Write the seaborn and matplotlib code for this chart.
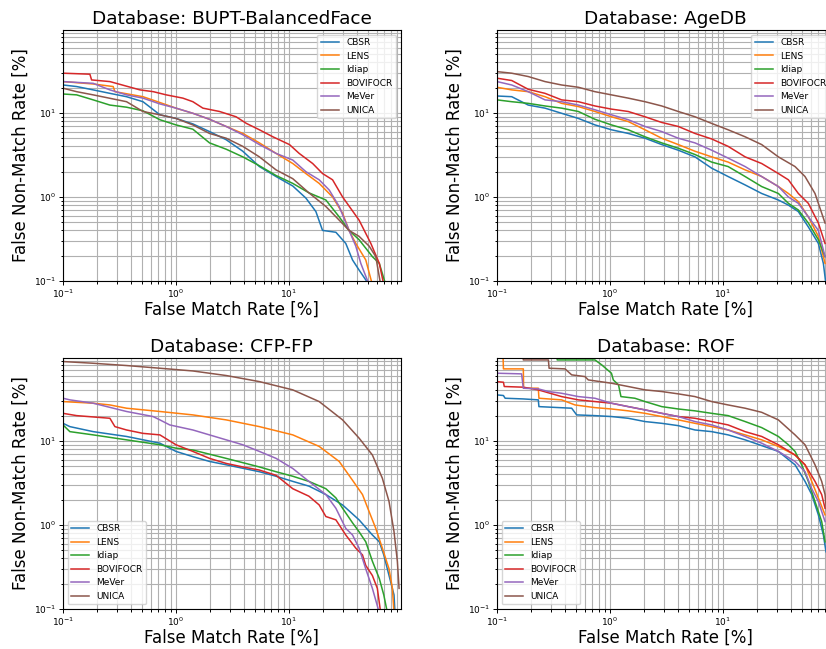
import numpy as np
import pandas as pd
import matplotlib
matplotlib.use("Agg")
import matplotlib.pyplot as plt
import seaborn as sns

methods = ["CBSR", "LENS", "Idiap", "BOVIFOCR", "MeVer", "UNICA"]
palette = dict(zip(methods, sns.color_palette("tab10", 6)))

# -----------------------------
# BUPT-BalancedFace (FMR %, FNMR %)
# -----------------------------
bupt_cbsr_fmr = [0.1, 0.132, 0.185, 0.26, 0.365, 0.51, 0.59, 0.72, 1.0, 1.41, 1.98, 2.78, 3.9, 5.47, 7.68, 10.8, 14.1, 17.3, 19.8, 26, 31.8, 36.5, 41.7, 51.2]
bupt_cbsr_fnmr = [21.5, 20.6, 18.8, 17.1, 15.6, 13.6, 11.7, 9.5, 8.6, 7.4, 6.0, 4.8, 3.5, 2.3, 1.75, 1.35, 0.97, 0.67, 0.40, 0.38, 0.28, 0.178, 0.135, 0.09]
bupt_lens_fmr = [0.1, 0.185, 0.278, 0.288, 0.51, 0.72, 1.0, 1.41, 1.98, 2.78, 3.9, 5.47, 7.68, 10.8, 14.1, 18.5, 24.3, 29.8, 34, 39, 47.8, 54.7]
bupt_lens_fnmr = [23.6, 22.1, 20.6, 17.9, 15.6, 13.3, 11.4, 9.9, 8.4, 6.9, 5.7, 4.4, 3.3, 2.5, 1.9, 1.45, 1.0, 0.64, 0.40, 0.28, 0.178, 0.09]
bupt_idiap_fmr = [0.1, 0.132, 0.185, 0.26, 0.365, 0.51, 0.72, 1.0, 1.41, 1.98, 2.78, 3.9, 5.47, 7.68, 10.8, 15.0, 21.2, 27.8, 34, 41.7, 54.7, 63, 71.8]
bupt_idiap_fnmr = [16.8, 16.4, 14.3, 12.4, 11.7, 10.6, 8.3, 7.2, 6.4, 4.4, 3.7, 3.0, 2.35, 1.8, 1.45, 1.12, 0.92, 0.58, 0.40, 0.31, 0.195, 0.162, 0.09]
bupt_bovifocr_fmr = [0.1, 0.173, 0.179, 0.26, 0.48, 0.63, 0.82, 1.15, 1.41, 1.73, 2.43, 3.4, 4.2, 5.47, 7.2, 10.1, 12.3, 16.2, 19.8, 24.3, 29.8, 41.7, 53, 63, 69]
bupt_bovifocr_fnmr = [29.7, 28.9, 24.7, 23.6, 18.8, 17.9, 16.4, 15.0, 13.6, 11.4, 10.4, 9.0, 7.5, 6.3, 5.2, 4.2, 3.3, 2.5, 1.9, 1.6, 1.0, 0.53, 0.28, 0.162, 0.09]
bupt_mever_fmr = [0.1, 0.185, 0.26, 0.365, 0.51, 0.72, 1.0, 1.41, 1.98, 2.78, 3.9, 5.47, 7.68, 10.8, 14.1, 18.5, 22.7, 27.8, 34, 39, 43.2, 51.2]
bupt_mever_fnmr = [23.6, 22.5, 18.8, 16.4, 15.0, 12.8, 11.4, 9.9, 8.4, 6.9, 5.5, 4.2, 3.3, 2.75, 2.0, 1.6, 1.21, 0.77, 0.40, 0.26, 0.162, 0.09]
bupt_unica_fmr = [0.1, 0.132, 0.185, 0.365, 0.51, 0.72, 1.0, 1.41, 1.98, 2.78, 3.9, 5.47, 7.68, 10.8, 15.0, 21.2, 27.8, 34, 41.7, 51.2, 58.6, 64.8]
bupt_unica_fnmr = [19.7, 17.9, 16.4, 13.6, 10.4, 9.5, 8.6, 7.2, 5.7, 5.0, 4.0, 3.0, 2.1, 1.65, 1.12, 0.77, 0.53, 0.40, 0.34, 0.26, 0.195, 0.09]

# -----------------------------
# AgeDB
# -----------------------------
agedb_fmr = [0.1, 0.135, 0.189, 0.266, 0.373, 0.525, 0.736, 1.03, 1.45, 2.04, 2.87, 4.02, 5.65, 7.94, 11.1, 15.7, 22.0, 30.9, 37.9, 46.4, 56.9, 69.8, 80]
agedb_cbsr_fmr = [0.1, 0.135, 0.189, 0.266, 0.373, 0.525, 0.736, 1.03, 1.45, 2.04, 2.87, 4.02, 5.65, 7.94, 11.1, 15.7, 22.0, 30.9, 37.9, 46.4, 56.9, 69.8, 77.3, 81.6]
agedb_cbsr_fnmr = [15.9, 15.6, 12.4, 11.4, 9.9, 8.6, 7.2, 6.3, 5.7, 5.0, 4.2, 3.6, 3.0, 2.2, 1.75, 1.39, 1.1, 0.92, 0.80, 0.67, 0.44, 0.28, 0.162, 0.09]
agedb_lens_fnmr = [20.2, 18.8, 17.9, 15.6, 13.0, 11.9, 10.4, 9.0, 7.9, 6.3, 5.0, 4.2, 3.5, 3.0, 2.6, 2.1, 1.75, 1.33, 1.1, 0.88, 0.58, 0.34, 0.162]
agedb_idiap_fnmr = [14.3, 13.6, 13.0, 12.1, 11.4, 10.4, 8.4, 7.2, 6.3, 5.2, 4.4, 3.8, 3.2, 2.6, 2.3, 1.75, 1.33, 1.1, 0.84, 0.70, 0.49, 0.31, 0.195]
agedb_bovifocr_fnmr = [25.9, 24.3, 19.1, 17.1, 14.3, 13.6, 12.1, 11.1, 10.4, 9.0, 7.7, 6.9, 5.7, 4.9, 4.0, 3.0, 2.5, 1.9, 1.6, 1.1, 0.84, 0.49, 0.28]
agedb_mever_fnmr = [23.6, 21.5, 17.9, 14.3, 13.6, 12.4, 10.9, 9.5, 8.3, 6.9, 6.0, 5.0, 4.4, 3.6, 2.9, 2.3, 1.75, 1.33, 1.0, 0.84, 0.58, 0.40, 0.195]
agedb_unica_fmr = [0.1, 0.135, 0.189, 0.266, 0.373, 0.525, 0.736, 1.03, 1.45, 2.04, 2.87, 4.02, 5.65, 7.94, 11.1, 15.7, 22.0, 30.9, 43.4, 53.2, 65.2, 80]
agedb_unica_fnmr = [31.0, 29.7, 27.1, 23.6, 21.5, 20.2, 17.9, 16.4, 15.0, 13.6, 12.1, 10.4, 9.0, 7.5, 6.3, 5.2, 4.2, 3.0, 2.3, 1.75, 1.1, 0.49]

# -----------------------------
# CFP-FP
# -----------------------------
cfp_cbsr_fmr = [0.1, 0.115, 0.185, 0.365, 0.72, 1.0, 1.41, 1.98, 2.78, 5.47, 7.68, 10.8, 15.0, 21.2, 29.8, 41.7, 54.7, 63, 69, 76.8, 85, 86.7]
cfp_cbsr_fnmr = [16.2, 14.8, 12.9, 11.3, 9.4, 7.5, 6.5, 5.7, 5.2, 4.3, 3.8, 3.3, 2.9, 2.3, 1.73, 1.15, 0.76, 0.63, 0.44, 0.25, 0.147, 0.09]
cfp_lens_fmr = [0.1, 0.185, 0.26, 0.365, 0.72, 1.41, 2.78, 5.47, 10.8, 18.5, 27.8, 36.5, 44.7, 51.2, 58.6, 67, 76.8, 82.2, 85]
cfp_lens_fnmr = [29.4, 28.1, 26.8, 24.5, 22.4, 20.4, 17.8, 14.8, 11.8, 8.6, 5.7, 3.4, 2.3, 1.44, 0.91, 0.53, 0.30, 0.176, 0.09]
cfp_idiap_fmr = [0.1, 0.115, 0.185, 0.365, 0.72, 1.0, 1.41, 2.78, 5.47, 7.68, 10.8, 15.0, 21.2, 26, 29.8, 36.5, 41.7, 47.8, 54.7, 63, 69, 74.3]
cfp_idiap_fnmr = [15.5, 12.9, 11.8, 10.3, 9.0, 8.2, 7.8, 6.2, 4.9, 4.3, 3.8, 3.3, 2.7, 2.1, 1.58, 1.06, 0.83, 0.63, 0.37, 0.23, 0.147, 0.09]
cfp_bovifocr_fmr = [0.1, 0.132, 0.26, 0.288, 0.365, 0.51, 0.72, 1.0, 1.41, 1.98, 2.78, 3.9, 5.47, 7.68, 10.8, 15.0, 18.5, 21.2, 26, 31.8, 39, 44.7, 47.8, 54.7, 60.5, 64.8]
cfp_bovifocr_fnmr = [21.3, 20.0, 18.6, 14.8, 13.5, 12.3, 11.8, 9.0, 7.5, 6.2, 5.4, 4.9, 4.5, 3.9, 2.7, 2.2, 1.73, 1.26, 1.15, 0.76, 0.53, 0.44, 0.33, 0.25, 0.176, 0.09]
cfp_mever_fmr = [0.1, 0.115, 0.185, 0.365, 0.627, 0.72, 0.88, 1.41, 2.78, 3.9, 5.47, 7.68, 10.8, 15.0, 21.2, 26, 31.8, 36.5, 41.7, 47.8, 54.7, 63]
cfp_mever_fnmr = [32.2, 30.8, 28.1, 22.4, 19.5, 17.8, 15.5, 13.5, 10.3, 9.0, 7.5, 6.2, 4.7, 3.3, 2.3, 1.58, 0.91, 0.76, 0.53, 0.30, 0.176, 0.09]
cfp_unica_fmr = [0.1, 0.185, 0.365, 0.72, 1.41, 2.78, 5.47, 10.8, 18.5, 29.8, 41.7, 54.7, 67, 76.8, 85, 91, 94.2]
cfp_unica_fnmr = [88, 84, 78.9, 73.3, 68, 60, 50.8, 40.5, 29.4, 17.8, 10.8, 6.8, 3.6, 1.9, 0.83, 0.37, 0.176]

# -----------------------------
# ROF
# -----------------------------
rof_cbsr_fmr = [0.1, 0.114, 0.118, 0.171, 0.232, 0.235, 0.458, 0.507, 0.736, 1.03, 1.45, 2.04, 2.87, 4.02, 5.65, 7.94, 11.1, 15.7, 22.0, 30.9, 43.4, 53.2, 61, 69.8, 77.3, 81.6]
rof_cbsr_fnmr = [35.3, 34.7, 32.2, 31.6, 30.8, 25.6, 24.5, 20.4, 20.0, 19.5, 18.6, 17.0, 16.2, 15.2, 13.5, 12.9, 11.8, 10.3, 8.8, 7.5, 5.2, 3.3, 2.3, 1.32, 0.76, 0.48]
rof_lens_fmr = [0.1, 0.113, 0.114, 0.171, 0.172, 0.232, 0.235, 0.373, 0.49, 0.736, 1.03, 1.45, 2.04, 2.87, 4.02, 5.65, 7.94, 11.1, 15.7, 22.0, 30.9, 43.4, 53.2, 61, 69.8, 80]
rof_lens_fnmr = [106, 106, 72, 72, 42.4, 42.4, 32.2, 30.8, 26.8, 24.9, 24.0, 22.8, 21.3, 19.5, 17.8, 16.2, 14.8, 13.5, 11.8, 10.3, 8.6, 6.8, 5.2, 3.3, 2.1, 1.32]
rof_idiap_fmr = [0.1, 0.34, 0.341, 0.736, 0.844, 1.03, 1.07, 1.19, 1.25, 1.66, 2.04, 2.87, 4.02, 5.65, 7.94, 11.1, 15.7, 22.0, 30.9, 37.9, 43.4, 49.7, 56.9, 65.2, 74.7, 80]
rof_idiap_fnmr = [110, 110, 92, 92, 80.4, 63.9, 53.2, 46.4, 33.7, 32.2, 29.4, 25.6, 24.0, 22.8, 21.3, 20.0, 17.0, 14.4, 11.3, 9.0, 7.5, 5.2, 3.3, 1.9, 1.1, 0.63]
rof_bovifocr_fmr = [0.1, 0.114, 0.116, 0.171, 0.232, 0.373, 0.525, 0.736, 1.03, 1.45, 2.04, 2.87, 4.02, 5.65, 7.94, 11.1, 15.7, 22.0, 30.9, 43.4, 53.2, 65.2, 74.7, 80]
rof_bovifocr_fnmr = [50.8, 49.9, 44.4, 43.6, 40.5, 33.7, 30.8, 29.4, 28.1, 25.6, 23.4, 21.3, 19.5, 18.6, 17.0, 15.5, 12.9, 11.3, 9.0, 6.8, 5.2, 3.3, 2.3, 1.58]
rof_mever_fmr = [0.1, 0.165, 0.171, 0.232, 0.285, 0.373, 0.525, 0.736, 1.03, 1.45, 2.04, 2.87, 4.02, 5.65, 7.94, 11.1, 15.7, 22.0, 30.9, 43.4, 53.2, 61, 69.8, 80]
rof_mever_fnmr = [63.9, 62.8, 42.4, 41.6, 38.7, 36.9, 33.7, 32.2, 28.1, 25.6, 23.4, 21.3, 19.5, 17.0, 15.5, 13.5, 11.3, 9.4, 7.5, 5.7, 4.3, 2.7, 1.9, 1.1]
rof_unica_fmr = [0.1, 0.170, 0.171, 0.285, 0.289, 0.40, 0.458, 0.60, 0.643, 1.03, 1.45, 2.04, 2.87, 4.02, 5.65, 7.94, 11.1, 15.7, 22.0, 30.9, 43.4, 53.2, 65.2, 74.7, 80, 82.6]
rof_unica_fnmr = [110, 110, 92, 92, 73.3, 72, 61.1, 58.3, 53.2, 48.6, 44.4, 40.5, 38.7, 36.3, 33.7, 29.4, 26.8, 24.5, 21.9, 17.8, 11.8, 9.0, 5.2, 3.3, 2.3, 1.44]

panels = [
    ("BUPT-BalancedFace", {
        "CBSR": (bupt_cbsr_fmr, bupt_cbsr_fnmr),
        "LENS": (bupt_lens_fmr, bupt_lens_fnmr),
        "Idiap": (bupt_idiap_fmr, bupt_idiap_fnmr),
        "BOVIFOCR": (bupt_bovifocr_fmr, bupt_bovifocr_fnmr),
        "MeVer": (bupt_mever_fmr, bupt_mever_fnmr),
        "UNICA": (bupt_unica_fmr, bupt_unica_fnmr)}, "upper right"),
    ("AgeDB", {
        "CBSR": (agedb_cbsr_fmr, agedb_cbsr_fnmr),
        "LENS": (agedb_fmr, agedb_lens_fnmr),
        "Idiap": (agedb_fmr, agedb_idiap_fnmr),
        "BOVIFOCR": (agedb_fmr, agedb_bovifocr_fnmr),
        "MeVer": (agedb_fmr, agedb_mever_fnmr),
        "UNICA": (agedb_unica_fmr, agedb_unica_fnmr)}, "upper right"),
    ("CFP-FP", {
        "CBSR": (cfp_cbsr_fmr, cfp_cbsr_fnmr),
        "LENS": (cfp_lens_fmr, cfp_lens_fnmr),
        "Idiap": (cfp_idiap_fmr, cfp_idiap_fnmr),
        "BOVIFOCR": (cfp_bovifocr_fmr, cfp_bovifocr_fnmr),
        "MeVer": (cfp_mever_fmr, cfp_mever_fnmr),
        "UNICA": (cfp_unica_fmr, cfp_unica_fnmr)}, "lower left"),
    ("ROF", {
        "CBSR": (rof_cbsr_fmr, rof_cbsr_fnmr),
        "LENS": (rof_lens_fmr, rof_lens_fnmr),
        "Idiap": (rof_idiap_fmr, rof_idiap_fnmr),
        "BOVIFOCR": (rof_bovifocr_fmr, rof_bovifocr_fnmr),
        "MeVer": (rof_mever_fmr, rof_mever_fnmr),
        "UNICA": (rof_unica_fmr, rof_unica_fnmr)}, "lower left"),
]

# axes boxes in figure fractions (right column runs past the image edge, as in the source)
W, H = 826, 649
boxes = [
    (63 / W, 1 - 281 / H, 337.5 / W, 251 / H),
    (497 / W, 1 - 281 / H, 337.5 / W, 251 / H),
    (63 / W, 1 - 609 / H, 337.5 / W, 251 / H),
    (497 / W, 1 - 609 / H, 337.5 / W, 251 / H),
]

fig = plt.figure(figsize=(W / 100, H / 100), dpi=100)

for (name, curves, loc), box in zip(panels, boxes):
    ax = fig.add_axes(box)
    ax.set_xscale("log")
    ax.set_yscale("log")

    frames = []
    for m in methods:
        fmr, fnmr = curves[m]
        frames.append(pd.DataFrame({"fmr": fmr, "fnmr": fnmr, "method": m}))
    df = pd.concat(frames, ignore_index=True)

    sns.lineplot(data=df, x="fmr", y="fnmr", hue="method", hue_order=methods,
                 palette=palette, sort=False, estimator=None, linewidth=1.1, ax=ax)

    ax.set_xlim(0.1, 97)
    ax.set_ylim(0.1, 97)
    ax.grid(True, which="both", color="#b0b0b0", linewidth=0.8)
    ax.set_axisbelow(True)
    ax.tick_params(which="both", labelsize=6.5, width=0.7, pad=2)
    ax.tick_params(which="major", length=3)
    ax.tick_params(which="minor", length=1.8)
    ax.set_title(f"Database: {name}", fontsize=13.3, pad=4)
    ax.set_xlabel("False Match Rate [%]", fontsize=12, labelpad=0)
    ax.set_ylabel("False Non-Match Rate [%]", fontsize=12, labelpad=3)
    sns.move_legend(ax, loc, title=None, fontsize=6.5, frameon=True)

fig.savefig("out.png", dpi=100)
